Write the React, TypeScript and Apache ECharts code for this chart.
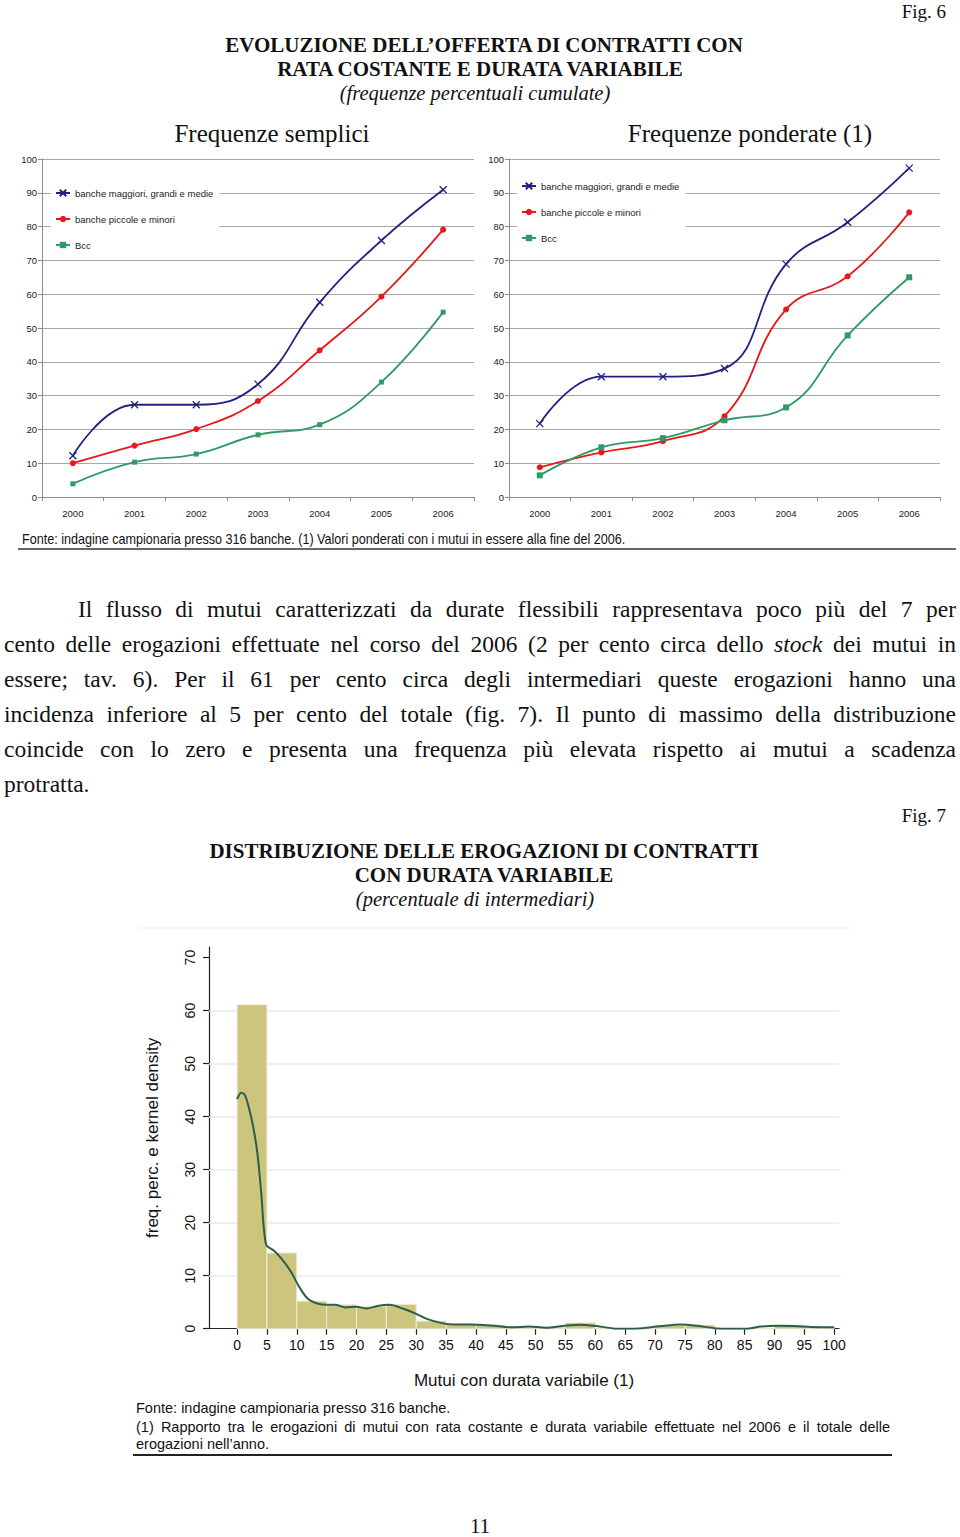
import React, { useEffect, useRef } from "react";
import * as echarts from "echarts";

// ---------- DATA ----------
const years = ["2000", "2001", "2002", "2003", "2004", "2005", "2006"];
const seriesNames = ["banche maggiori, grandi e medie", "banche piccole e minori", "Bcc"];

const sempliciMaggiori = [12.2, 27.3, 27.3, 33.4, 57.6, 75.9, 90.9];
const sempliciPiccole = [10.0, 15.2, 20.1, 28.4, 43.4, 59.3, 79.1];
const sempliciBcc = [3.9, 10.3, 12.7, 18.4, 21.4, 34.0, 54.7];

const ponderateMaggiori = [21.7, 35.6, 35.6, 38.0, 68.9, 81.3, 97.3];
const ponderatePiccole = [8.8, 13.2, 16.5, 23.9, 55.5, 65.3, 84.2];
const ponderateBcc = [6.4, 14.7, 17.4, 22.7, 26.5, 47.8, 65.0];

const binStarts = [0, 5, 10, 15, 20, 25, 30, 35, 40, 45, 50, 55, 60, 65, 70, 75, 80, 85, 90, 95];
const binValues = [61.1, 14.3, 5.2, 4.5, 4.2, 4.6, 1.45, 0.9, 0.7, 0.3, 0.3, 1.1, 0, 0, 0.65, 0.7, 0, 0, 0.65, 0.3];

const kernelX = [0, 0.7, 1.3, 2.0, 2.7, 3.4, 4.1, 4.4, 4.8, 5.1, 6.2, 7.6, 9.0, 10.4, 11.8, 13.3, 15.0, 16.4, 18.2, 20.0, 21.7, 23.5, 25.6, 27.7, 29.8, 31.9, 34.1, 36.2, 39.0, 42.5, 46.0, 48.9, 51.7, 54.5, 57.3, 60.2, 63.0, 65.1, 67.9, 70.7, 74.3, 77.1, 79.9, 82.7, 85.5, 87.7, 90.5, 93.3, 96.1, 100];
const kernelY = [43.3, 44.5, 44.1, 41.6, 38.1, 33.1, 24.9, 19.9, 16.1, 15.5, 14.7, 13.0, 10.8, 7.9, 5.7, 4.8, 4.5, 4.5, 4.0, 4.15, 3.8, 4.3, 4.5, 3.8, 2.9, 1.8, 1.1, 0.8, 0.8, 0.6, 0.25, 0.4, 0.2, 0.5, 0.75, 0.5, 0.06, 0, 0.1, 0.45, 0.8, 0.55, 0.1, 0, 0, 0.4, 0.55, 0.5, 0.3, 0.25];

const histXTicks = [0, 5, 10, 15, 20, 25, 30, 35, 40, 45, 50, 55, 60, 65, 70, 75, 80, 85, 90, 95, 100];
const histYTicks = [0, 10, 20, 30, 40, 50, 60, 70];
const histGridValues = [10, 20, 30, 40, 50, 60];

const paragraphLines = [
  "Il flusso di mutui caratterizzati da durate flessibili rappresentava poco più del 7 per",
  ["cento delle erogazioni effettuate nel corso del 2006 (2 per cento circa dello ", "stock", " dei mutui in"],
  "essere; tav. 6). Per il 61 per cento circa degli intermediari queste erogazioni hanno una",
  "incidenza inferiore al 5 per cento del totale (fig. 7). Il punto di massimo della distribuzione",
  "coincide con lo zero e presenta una frequenza più elevata rispetto ai mutui a scadenza",
  "protratta.",
];

const fig7Notes = [
  "Fonte: indagine campionaria presso 316 banche.",
  "(1) Rapporto tra le erogazioni di mutui con rata costante e durata variabile effettuate nel 2006 e il totale delle",
  "erogazioni nell\u2019anno.",
];

// ---------- STYLE ----------
const SERIF = "'Liberation Serif', 'Times New Roman', serif";
const SANS = "'Liberation Sans', Arial, sans-serif";
const NAVY = "#202080";
const RED = "#e8171b";
const GREEN = "#2f9a66";
const XSYM = "path://M0,0L10,10M10,0L0,10";

function lineSeries(name: string, data: number[], idx: number, color: string, symbol: string, size: number) {
  const isX = symbol === XSYM;
  return {
    name,
    type: "line",
    xAxisIndex: idx,
    yAxisIndex: idx,
    data,
    smooth: 0.45,
    symbol,
    symbolSize: size,
    showSymbol: true,
    lineStyle: { color, width: 1.8 },
    itemStyle: isX
      ? { color: "rgba(0,0,0,0)", borderColor: color, borderWidth: 1.3 }
      : { color, borderColor: color, borderWidth: 0 },
    z: 3,
  };
}

function topXAxis(gridIndex: number) {
  return {
    type: "category",
    gridIndex,
    data: years,
    boundaryGap: true,
    axisLine: { show: true, lineStyle: { color: "#8c8c8c", width: 1 } },
    axisTick: { show: true, interval: 0, length: 4, lineStyle: { color: "#8c8c8c" } },
    axisLabel: { fontSize: 9.5, fontFamily: SANS, color: "#222", margin: 11 },
    splitLine: { show: false },
  };
}

function topYAxis(gridIndex: number) {
  return {
    type: "value",
    gridIndex,
    min: 0,
    max: 100,
    interval: 10,
    axisLine: { show: true, lineStyle: { color: "#8c8c8c", width: 1 } },
    axisTick: { show: true, length: 4, lineStyle: { color: "#8c8c8c" } },
    axisLabel: { fontSize: 9.5, fontFamily: SANS, color: "#222", margin: 5 },
    splitLine: { show: true, lineStyle: { color: "#a8a8a8", width: 1 } },
  };
}

function topLegend(left: number, top: number) {
  return {
    data: seriesNames,
    orient: "vertical",
    left,
    top,
    itemWidth: 14,
    itemHeight: 8,
    itemGap: 14,
    backgroundColor: "#ffffff",
    padding: [4, 6, 4, 4],
    selectedMode: false,
    textStyle: { fontSize: 9.5, lineHeight: 12, fontFamily: SANS, color: "#222" },
  };
}

function txt(text: string, x: number, y: number, opts: any = {}, extra: any = {}) {
  return {
    type: "text",
    x,
    y,
    silent: true,
    ...extra,
    style: {
      text,
      fill: "#111",
      fontFamily: SERIF,
      fontSize: 20,
      align: "center",
      verticalAlign: "middle",
      ...opts,
    },
  };
}

export default function App() {
  const ref = useRef<HTMLDivElement>(null);

  useEffect(() => {
    if (!ref.current) return;
    const chart = echarts.init(ref.current, undefined, { renderer: "svg" });

    const bins = binStarts.map((s, i) => [s, s + 5, binValues[i]]);
    const kernel = kernelX.map((x, i) => [x, kernelY[i]]);

    const option: any = {
      animation: false,
      backgroundColor: "#ffffff",
      textStyle: { fontFamily: SANS },
      grid: [
        { left: 42, top: 159, width: 432, height: 338 },
        { left: 509, top: 159, width: 431, height: 338 },
        { left: 209, top: 947, width: 630, height: 381.7 },
      ],
      legend: [topLegend(51, 183), topLegend(517, 176)],
      xAxis: [
        topXAxis(0),
        topXAxis(1),
        {
          type: "value",
          gridIndex: 2,
          min: -4.7,
          max: 100.8,
          axisLine: { show: true, onZero: false, lineStyle: { color: "#222", width: 1.2 } },
          axisTick: { show: true, customValues: histXTicks, length: 6, lineStyle: { color: "#222", width: 1.2 } },
          axisLabel: { customValues: histXTicks, fontSize: 14, fontFamily: SANS, color: "#111", margin: 9 },
          splitLine: { show: false },
          name: "Mutui con durata variabile (1)",
          nameLocation: "middle",
          nameGap: 43,
          nameTextStyle: { fontSize: 17, fontFamily: SANS, color: "#111" },
        },
      ],
      yAxis: [
        topYAxis(0),
        topYAxis(1),
        {
          type: "value",
          gridIndex: 2,
          min: 0,
          max: 72,
          axisLine: { show: true, onZero: false, lineStyle: { color: "#222", width: 1.2 } },
          axisTick: { show: true, customValues: histYTicks, length: 6, lineStyle: { color: "#222", width: 1.2 } },
          axisLabel: { customValues: histYTicks, rotate: 90, fontSize: 14, fontFamily: SANS, color: "#111", margin: 12 },
          splitLine: { show: false },
          name: "freq. perc. e kernel density",
          nameLocation: "middle",
          nameGap: 48,
          nameTextStyle: { fontSize: 17, fontFamily: SANS, color: "#111" },
        },
      ],
      series: [
        lineSeries(seriesNames[0], sempliciMaggiori, 0, NAVY, XSYM, 7),
        lineSeries(seriesNames[1], sempliciPiccole, 0, RED, "circle", 6),
        lineSeries(seriesNames[2], sempliciBcc, 0, GREEN, "rect", 5),
        lineSeries(seriesNames[0], ponderateMaggiori, 1, NAVY, XSYM, 7),
        lineSeries(seriesNames[1], ponderatePiccole, 1, RED, "circle", 6),
        lineSeries(seriesNames[2], ponderateBcc, 1, GREEN, "rect", 6),
        {
          type: "custom",
          name: "freq",
          xAxisIndex: 2,
          yAxisIndex: 2,
          data: bins,
          encode: { x: [0, 1], y: 2 },
          z: 6,
          renderItem: (params: any, api: any) => {
            const s = api.value(0);
            const e = api.value(1);
            const v = api.value(2);
            const p0 = api.coord([s, v]);
            const p1 = api.coord([e, 0]);
            return {
              type: "rect",
              shape: { x: p0[0], y: p0[1], width: p1[0] - p0[0], height: p1[1] - p0[1] },
              style: { fill: "#cdc47e", stroke: "#efecd6", lineWidth: 1 },
            };
          },
          markLine: {
            silent: true,
            symbol: "none",
            z: 5,
            label: { show: false },
            lineStyle: { color: "#e3ecee", width: 1.5, type: "solid" },
            data: histGridValues.map((v) => ({ yAxis: v })),
          },
        },
        {
          type: "line",
          name: "kernel",
          xAxisIndex: 2,
          yAxisIndex: 2,
          data: kernel,
          smooth: 0.3,
          showSymbol: false,
          symbol: "none",
          lineStyle: { color: "#2b5e4c", width: 2 },
          z: 8,
        },
      ],
      graphic: [
        txt("Fig. 6", 946, 11, { align: "right", fontSize: 19 }),
        txt("EVOLUZIONE DELL\u2019OFFERTA DI CONTRATTI CON", 484, 45, { fontWeight: "bold", fontSize: 21 }),
        txt("RATA COSTANTE E DURATA VARIABILE", 480, 69, { fontWeight: "bold", fontSize: 21 }),
        txt("(frequenze percentuali cumulate)", 475, 93, { fontStyle: "italic", fontSize: 20.5 }),
        txt("Frequenze semplici", 272, 133, { fontSize: 25 }),
        txt("Frequenze ponderate (1)", 750, 133, { fontSize: 25 }),
        txt(
          "Fonte: indagine campionaria presso 316 banche. (1) Valori ponderati con i mutui in essere alla fine del 2006.",
          22,
          539,
          { align: "left", fontFamily: SANS, fontSize: 14 },
          { scaleX: 0.9 }
        ),
        { type: "line", silent: true, shape: { x1: 18, y1: 549, x2: 956, y2: 549 }, style: { stroke: "#333", lineWidth: 1.5 } },
        txt("Fig. 7", 946, 815, { align: "right", fontSize: 19 }),
        txt("DISTRIBUZIONE DELLE EROGAZIONI DI CONTRATTI", 484, 851, { fontWeight: "bold", fontSize: 21 }),
        txt("CON DURATA VARIABILE", 484, 875, { fontWeight: "bold", fontSize: 21 }),
        txt("(percentuale di intermediari)", 475, 899, { fontStyle: "italic", fontSize: 20.5 }),
        { type: "line", silent: true, shape: { x1: 140, y1: 928, x2: 850, y2: 928 }, style: { stroke: "#f1f1f1", lineWidth: 1.5 } },
        { type: "line", silent: true, shape: { x1: 133, y1: 1455, x2: 892, y2: 1455 }, style: { stroke: "#222", lineWidth: 2 } },
        txt("11", 480, 1526, { fontSize: 21 }),
      ],
    };

    chart.setOption(option);
    return () => chart.dispose();
  }, []);

  const noteStyle = (top: number, justify: boolean): any => ({
    position: "absolute",
    left: 136,
    top,
    width: 754,
    fontFamily: SANS,
    fontSize: 14.5,
    lineHeight: "17px",
    color: "#111",
    textAlign: justify ? "justify" : "left",
    textAlignLast: justify ? "justify" : "left",
  });

  return (
    <div style={{ position: "absolute", left: 0, top: 0, width: 960, height: 1537, background: "#fff" }}>
      <div ref={ref} style={{ position: "absolute", left: 0, top: 0, width: 960, height: 1537 }} />
      <div
        style={{
          position: "absolute",
          left: 4,
          top: 591.5,
          width: 952,
          fontFamily: SERIF,
          fontSize: 23.5,
          lineHeight: "35px",
          color: "#111",
        }}
      >
        {paragraphLines.map((line, i) => {
          const last = i === paragraphLines.length - 1;
          return (
            <div
              key={i}
              style={{
                textAlign: last ? "left" : "justify",
                textAlignLast: last ? "left" : "justify",
                paddingLeft: i === 0 ? 74 : 0,
              } as any}
            >
              {Array.isArray(line) ? (
                <>
                  {line[0]}
                  <i>{line[1]}</i>
                  {line[2]}
                </>
              ) : (
                line
              )}
            </div>
          );
        })}
      </div>
      <div style={noteStyle(1399.5, false)}>{fig7Notes[0]}</div>
      <div style={noteStyle(1418.5, true)}>{fig7Notes[1]}</div>
      <div style={noteStyle(1435.5, false)}>{fig7Notes[2]}</div>
    </div>
  );
}
